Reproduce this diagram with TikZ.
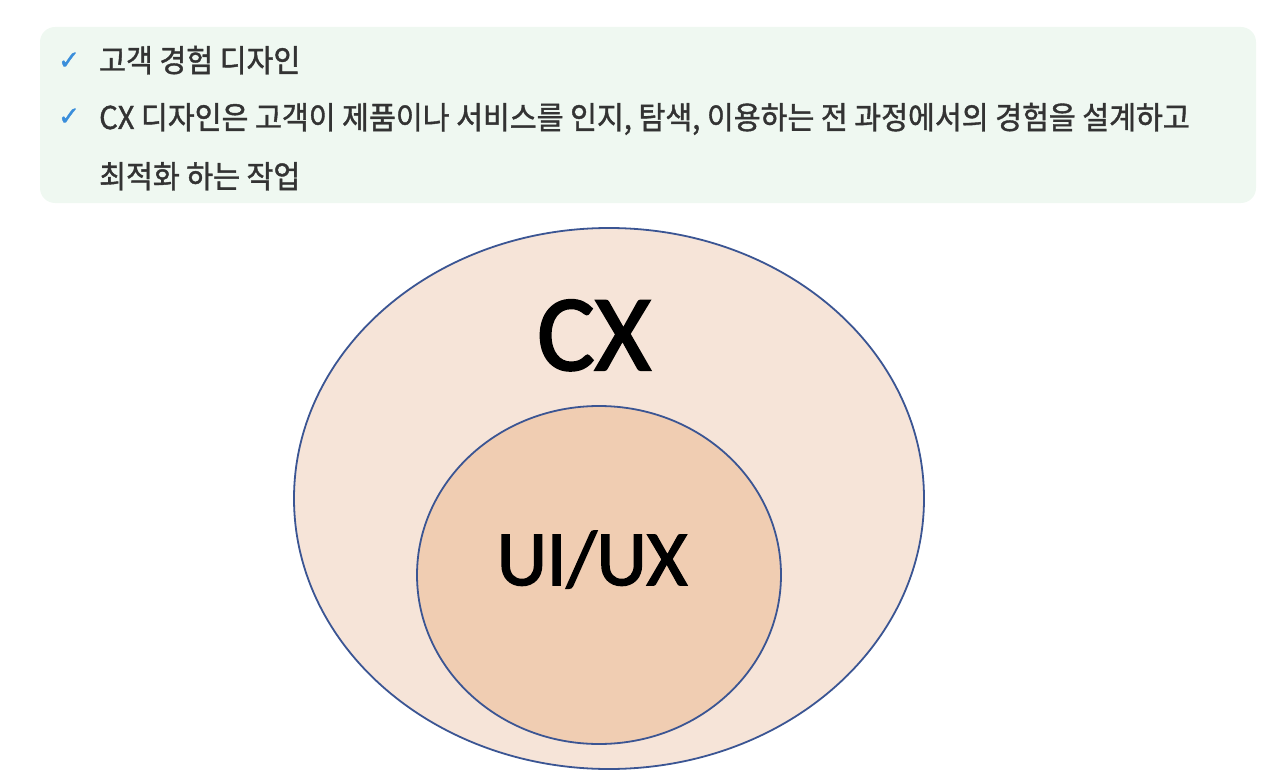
\documentclass[tikz,border=0pt]{standalone}
\usepackage{fontspec}
\usetikzlibrary{shapes.geometric}
\newfontfamily\kofont[FakeBold=1.2,FakeStretch=0.93]{Noto Sans CJK KR}
\newfontfamily\calfont[FakeBold=2]{Carlito}
\newfontfamily\symfont[FakeBold=1.5]{DejaVu Sans}
\definecolor{boxfill}{HTML}{EFF8F1}
\definecolor{txtgray}{HTML}{333333}
\definecolor{checkblue}{HTML}{3A8EDB}
\definecolor{outerfill}{HTML}{F6E4D8}
\definecolor{innerfill}{HTML}{F0CDB2}
\definecolor{edgeblue}{HTML}{3B5593}
\begin{document}
\begin{tikzpicture}[x=1pt,y=-1pt,
  linetext/.style={anchor=base west, inner sep=0pt, text=txtgray, font=\kofont\fontsize{31.4}{34}\selectfont},
  checkmark/.style={anchor=base west, inner sep=0pt, text=checkblue, font=\symfont\fontsize{26}{27}\selectfont},
  bigtext/.style={inner sep=0pt, text=black, font=\calfont\fontsize{108}{110}\selectfont},
  midtext/.style={inner sep=0pt, text=black, font=\calfont\fontsize{78}{80}\selectfont},
  ring/.style={draw=edgeblue, line width=1.8pt}]
\useasboundingbox (0,0) rectangle (1284,770);
\fill[boxfill, rounded corners=15pt] (40,27) rectangle (1256,203);
\node[checkmark] (c1) at (58,69) {✓};
\node[checkmark] (c2) at (58,125) {✓};
\node[linetext] (t1) at (99,72) {고객 경험 디자인};
\node[linetext] (t2) at (99,129) {CX 디자인은 고객이 제품이나 서비스를 인지, 탐색, 이용하는 전 과정에서의 경험을 설계하고};
\node[linetext] (t3) at (99,188) {최적화 하는 작업};
\filldraw[ring, fill=outerfill] (609,498.5) ellipse [x radius=315, y radius=270.5];
\filldraw[ring, fill=innerfill] (599,575) ellipse [x radius=182, y radius=169];
\node[bigtext, anchor=base] (cx) at (594,370) {CX};
\node[midtext, anchor=base] (ux) at (592,585) {UI/UX};
\end{tikzpicture}
\end{document}
